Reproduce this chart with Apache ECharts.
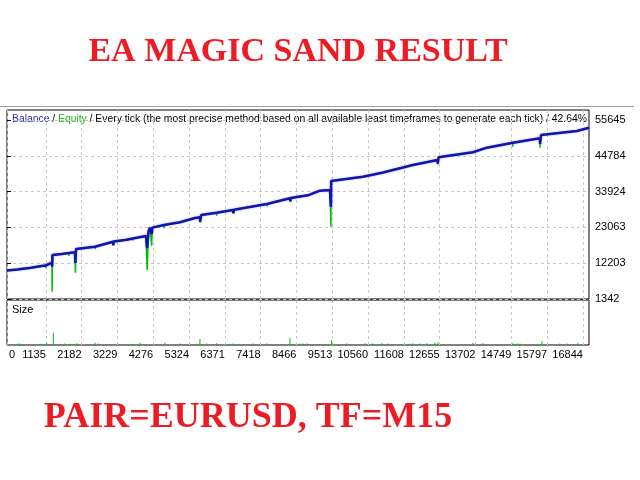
<!DOCTYPE html>
<html><head><meta charset="utf-8">
<script src="https://cdn.jsdelivr.net/npm/echarts@6/dist/echarts.min.js"></script>
<style>html,body{margin:0;padding:0;background:#fff}#c{width:640px;height:480px}</style>
</head><body><div id="c"></div>
<script>
// ---- data ----
const xTickLabels = [0,1135,2182,3229,4276,5324,6371,7418,8466,9513,10560,11608,12655,13702,14749,15797,16844];
const yTickLabels = [1342,12203,23063,33924,44784,55645];
const balanceTrades = [0,300,700,1061,1131,1316,1320,1330,1600,1813,1988,2000,2020,2573,2580,2590,3099,3110,3120,3500,3675,4064,4100,4140,4181,4231,4250,4591,5058,5500,5643,5650,5680,6132,6608,6620,6640,7602,7610,7620,8275,8290,8300,8800,9152,9445,9474,9480,10410,11000,11872,12590,12600,12620,13626,14036,14796,15586,15590,15620,16668,17022];
const balanceValues = [10000,10300,10800,11400,11500,12350,11150,14700,15000,15300,15500,12300,16500,17200,16700,17300,18700,17700,18800,19300,19700,20456,16800,22000,22975,21000,23000,23800,24613,25900,26130,24800,26828,27500,28345,27400,28400,30165,29600,30200,31895,31000,32000,32800,34201,34413,29346,37143,38448,39700,42000,43515,42400,44334,45852,47248,48764,50099,48400,51099,52313,53315];
const equityTrades = [0,300,700,1061,1126,1131,1136,1316,1320,1330,1600,1808,1813,1818,1988,2000,2020,2573,2580,2590,3099,3110,3120,3500,3670,3675,3680,4064,4100,4140,4181,4231,4250,4586,4591,4596,5058,5500,5643,5650,5680,6127,6132,6137,6608,6620,6640,7602,7610,7620,8275,8290,8300,8800,9152,9445,9474,9480,10410,11000,11872,12590,12600,12620,13626,14036,14791,14796,14801,15586,15590,15620,16668,17022];
const equityValues = [10000,10300,10800,11400,11500,10657,11500,12350,3557,14700,15000,15300,14388,15300,15500,9321,16500,17200,16500,17300,18700,17500,18800,19300,19700,19000,19700,20456,10141,22000,22975,17513,23000,23800,22792,23800,24613,25900,26130,24500,26828,27500,26614,27500,28345,27200,28400,30165,29400,30200,31895,30800,32000,32800,34201,34413,23278,37143,38448,39700,42000,43515,42200,44334,45852,47248,48764,47550,48764,50099,47248,51099,52313,53315];
const sizeTrades = [322,380,985,1161,1354,1550,1696,1842,2038,2573,2661,3684,3889,4620,5058,5643,5839,6132,6520,6608,6813,7193,7594,8275,8567,8655,8772,9494,9933,10468,10702,10965,11140,11784,11872,12077,12282,12516,12603,13626,13918,14796,14913,15001,15644,16170,16375,16697];
const sizeValues = [0.12,0.12,0.1,0.16,0.96,0.1,0.12,0.1,0.14,0.18,0.12,0.1,0.18,0.2,0.12,0.48,0.12,0.14,0.1,0.12,0.1,0.12,0.12,0.56,0.12,0.12,0.12,0.4,0.12,0.14,0.12,0.14,0.12,0.12,0.14,0.12,0.14,0.18,0.2,0.16,0.16,0.14,0.12,0.12,0.3,0.12,0.12,0.18];

const zip = (a, b) => a.map((v, i) => [v, b[i]]);
const chart = echarts.init(document.getElementById('c'));
const gridLine = {show:true, lineStyle:{color:'#c8c8c8', type:[3,3], width:1}};
const lab = {fontFamily:'Liberation Sans', fontSize:11, color:'#000', formatter:(v)=>String(v)};
const xMax = 17022;
const hdrFont = '10.35px "Liberation Sans"';
chart.setOption({
  animation:false,
  backgroundColor:'#fff',
  grid:[
    {left:7, top:110, width:582, height:189, show:true, borderColor:'#000', borderWidth:1, backgroundColor:'transparent'},
    {left:7, top:300, width:582, height:45, show:true, borderColor:'#000', borderWidth:1, backgroundColor:'transparent'}
  ],
  xAxis:[
    {gridIndex:0, type:'value', min:0, max:xMax, axisLine:{show:false}, axisLabel:{show:false},
     axisTick:{show:false, customValues:xTickLabels}, splitLine:gridLine},
    {gridIndex:1, type:'value', position:'bottom', min:0, max:xMax, axisLine:{show:false},
     axisTick:{show:false, customValues:xTickLabels},
     axisLabel:Object.assign({customValues:xTickLabels.slice(1), margin:4, align:'right'}, lab), splitLine:gridLine},
    {gridIndex:1, type:'value', position:'bottom', offset:0, min:0, max:xMax, axisLine:{show:false}, splitLine:{show:false},
     axisTick:{show:false, customValues:[xTickLabels[0]]},
     axisLabel:Object.assign({customValues:[xTickLabels[0]], margin:4, align:'left', padding:[0,0,0,2]}, lab)}
  ],
  yAxis:[
    {gridIndex:0, type:'value', position:'right', min:1342, max:58679, axisLine:{show:false},
     axisTick:{show:true, length:4, customValues:yTickLabels, lineStyle:{color:'#000'}},
     axisLabel:Object.assign({customValues:yTickLabels, margin:6}, lab), splitLine:gridLine},
    {gridIndex:1, type:'value', min:0, max:3.6, axisLine:{show:false}, axisLabel:{show:false}, axisTick:{show:false}, splitLine:{show:false}}
  ],
  series:[
    {type:'line', xAxisIndex:0, yAxisIndex:0, data:zip(equityTrades, equityValues), showSymbol:false,
     lineStyle:{color:'#00c000', width:1.5}, z:2},
    {type:'line', xAxisIndex:0, yAxisIndex:0, data:zip(balanceTrades, balanceValues), showSymbol:false,
     lineStyle:{color:'#1414a8', width:2.5, shadowColor:'rgba(120,140,255,0.7)', shadowBlur:2}, z:3},
    {type:'bar', xAxisIndex:1, yAxisIndex:1, data:zip(sizeTrades, sizeValues), barWidth:1,
     itemStyle:{color:'#00c000'}}
  ],
  graphic:[
    {type:'line', shape:{x1:0, y1:106.5, x2:634, y2:106.5}, style:{stroke:'#a0a0a0', lineWidth:1}, silent:true},
    {type:'line', shape:{x1:7, y1:300.5, x2:589, y2:300.5}, style:{stroke:'#808080', lineWidth:1}, silent:true, z:10},
    {type:'text', left:12, top:114, style:{
      text:'{b|Balance} / {g|Equity} / Every tick (the most precise method based on all available least timeframes to generate each tick) / 42.64%',
      font:hdrFont, fill:'#000',
      rich:{b:{fill:'#2828b4', font:hdrFont}, g:{fill:'#22b422', font:hdrFont}, n:{font:hdrFont}}}},
    {type:'text', left:12, top:304, style:{text:'Size', font:'11px "Liberation Sans"', fill:'#000'}},
    {type:'text', x:298, y:52, style:{text:'EA MAGIC SAND RESULT', font:'bold 34px "Liberation Serif"', fill:'#ed1c24', align:'center', verticalAlign:'middle'}},
    {type:'text', x:248, y:418, style:{text:'PAIR=EURUSD, TF=M15', font:'bold 36px "Liberation Serif"', fill:'#ed1c24', align:'center', verticalAlign:'middle'}}
  ]
});
</script></body></html>
